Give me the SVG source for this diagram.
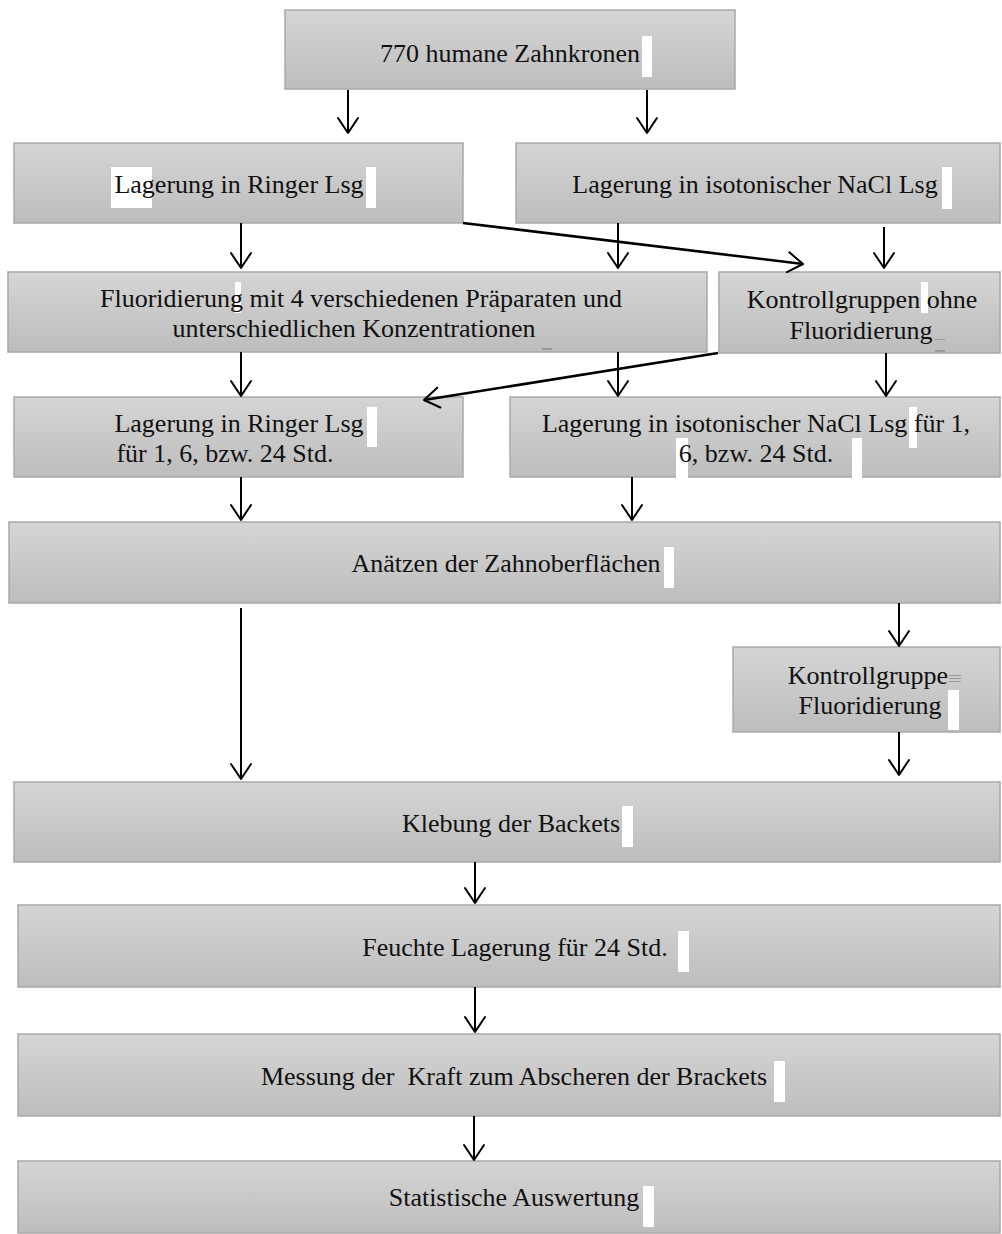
<svg xmlns="http://www.w3.org/2000/svg" width="1002" height="1234" viewBox="0 0 1002 1234">
<defs>
<linearGradient id="g" x1="0" y1="0" x2="0" y2="1">
<stop offset="0" stop-color="#d5d5d5"/>
<stop offset="1" stop-color="#bdbdbd"/>
</linearGradient>
<marker id="ah" markerUnits="userSpaceOnUse" viewBox="-17 -12 19 24" markerWidth="19" markerHeight="24" refX="0" refY="0" orient="auto" overflow="visible">
<path d="M-15,-10 L0,0 L-15,10" fill="none" stroke="#000" stroke-width="2" stroke-linejoin="round" stroke-linecap="round"/>
</marker>
</defs>
<style>
.box{fill:url(#g);stroke:#a9a9a9;stroke-width:1.5}
.t{font-family:"Liberation Serif","Times New Roman",serif;font-size:26px;fill:#111;text-anchor:middle;white-space:pre}
.w{fill:#fff}
.c line{stroke:#000;stroke-width:2}
.c line.d{stroke-width:2.6}
.m{fill:#9a9a9a}
</style>
<rect width="1002" height="1234" fill="#fff"/>

<g id="n1"><rect class="box" x="285" y="10" width="450" height="79"/><rect class="w" x="642" y="36" width="10" height="41"/><text class="t" x="510" y="62">770 humane Zahnkronen</text></g>
<g id="n2"><rect class="box" x="14" y="143" width="449" height="80"/><rect class="w" x="111" y="167" width="41" height="41"/><rect class="w" x="366" y="167" width="10" height="41"/><text class="t" x="239" y="193">Lagerung in Ringer Lsg</text></g>
<g id="n3"><rect class="box" x="516" y="143" width="484" height="80"/><rect class="w" x="942" y="167" width="10" height="42"/><text class="t" x="755" y="193">Lagerung in isotonischer NaCl Lsg</text></g>
<g id="n4"><rect class="box" x="8" y="272" width="699" height="80"/><rect class="w" x="235" y="282" width="6" height="31"/><rect class="m" x="542" y="348" width="10" height="2"/><text class="t" x="361" y="307">Fluoridierung mit 4 verschiedenen Präparaten und</text><text class="t" x="354" y="337">unterschiedlichen Konzentrationen</text></g>
<g id="n5"><rect class="box" x="719" y="272" width="281" height="81"/><rect class="w" x="921" y="282" width="7" height="31"/><rect class="m" x="935" y="339" width="10" height="1"/><rect class="m" x="935" y="350" width="10" height="2"/><text class="t" x="862" y="308">Kontrollgruppen ohne</text><text class="t" x="861" y="339">Fluoridierung</text></g>
<g id="n6"><rect class="box" x="14" y="397" width="449" height="80"/><rect class="w" x="367" y="407" width="10" height="40"/><text class="t" x="239" y="432">Lagerung in Ringer Lsg</text><text class="t" x="225" y="462">für 1, 6, bzw. 24 Std.</text></g>
<g id="n7"><rect class="box" x="510" y="397" width="490" height="80"/><rect class="w" x="909" y="407" width="8" height="41"/><rect class="w" x="676" y="438" width="12" height="40"/><rect class="w" x="852" y="438" width="10" height="40"/><text class="t" x="756" y="432">Lagerung in isotonischer NaCl Lsg für 1,</text><text class="t" x="756" y="462">6, bzw. 24 Std.</text></g>
<g id="n8"><rect class="box" x="9" y="522" width="991" height="81"/><rect class="w" x="664" y="547" width="10" height="41"/><text class="t" x="506" y="572">Anätzen der Zahnoberflächen</text></g>
<g id="n9"><rect class="box" x="733" y="647" width="267" height="85"/><rect class="w" x="948" y="690" width="11" height="40"/><rect class="m" x="949" y="675" width="12" height="1"/><rect class="m" x="949" y="678" width="12" height="1"/><rect class="m" x="949" y="681" width="12" height="1"/><text class="t" x="868" y="684">Kontrollgruppe</text><text class="t" x="870" y="714">Fluoridierung</text></g>
<g id="n10"><rect class="box" x="14" y="782" width="986" height="80"/><rect class="w" x="622" y="806" width="11" height="41"/><text class="t" x="511" y="832">Klebung der Backets</text></g>
<g id="n11"><rect class="box" x="18" y="905" width="982" height="82"/><rect class="w" x="678" y="931" width="11" height="41"/><text class="t" x="515" y="956">Feuchte Lagerung für 24 Std.</text></g>
<g id="n12"><rect class="box" x="18" y="1034" width="982" height="82"/><rect class="w" x="774" y="1061" width="11" height="41"/><text class="t" x="514" y="1085">Messung der  Kraft zum Abscheren der Brackets</text></g>
<g id="n13"><rect class="box" x="18" y="1161" width="982" height="72"/><rect class="w" x="643" y="1186" width="11" height="41"/><text class="t" x="514" y="1206">Statistische Auswertung</text></g>

<g id="connectors" class="c">
<line x1="348" y1="90" x2="348" y2="133" marker-end="url(#ah)"/>
<line x1="647" y1="90" x2="647" y2="133" marker-end="url(#ah)"/>
<line x1="241" y1="223" x2="241" y2="268" marker-end="url(#ah)"/>
<line x1="618" y1="223" x2="618" y2="268" marker-end="url(#ah)"/>
<line x1="884" y1="227" x2="884" y2="268" marker-end="url(#ah)"/>
<line class="d" x1="463" y1="223" x2="803" y2="264" marker-end="url(#ah)"/>
<line x1="241" y1="352" x2="241" y2="396" marker-end="url(#ah)"/>
<line x1="618" y1="352" x2="618" y2="396" marker-end="url(#ah)"/>
<line x1="886" y1="353" x2="886" y2="396" marker-end="url(#ah)"/>
<line class="d" x1="718" y1="353" x2="424" y2="400" marker-end="url(#ah)"/>
<line x1="241" y1="477" x2="241" y2="520" marker-end="url(#ah)"/>
<line x1="632" y1="477" x2="632" y2="520" marker-end="url(#ah)"/>
<line x1="241" y1="608" x2="241" y2="779" marker-end="url(#ah)"/>
<line x1="899" y1="603" x2="899" y2="646" marker-end="url(#ah)"/>
<line x1="899" y1="732" x2="899" y2="775" marker-end="url(#ah)"/>
<line x1="475" y1="862" x2="475" y2="903" marker-end="url(#ah)"/>
<line x1="475" y1="987" x2="475" y2="1032" marker-end="url(#ah)"/>
<line x1="474" y1="1116" x2="474" y2="1160" marker-end="url(#ah)"/>
</g>
</svg>
